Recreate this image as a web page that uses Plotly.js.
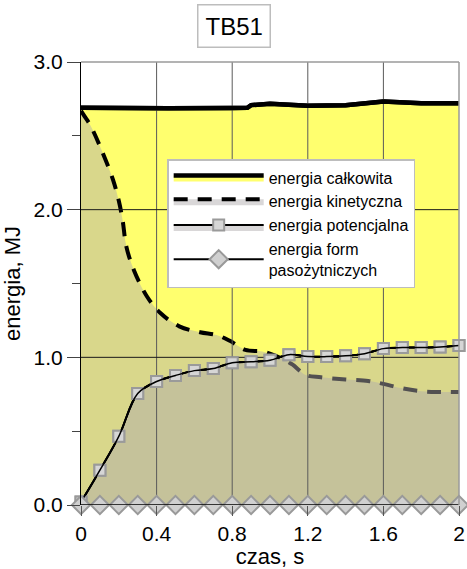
<!DOCTYPE html>
<html>
<head>
<meta charset="utf-8">
<script src="https://cdn.plot.ly/plotly-3.0.1.min.js"></script>
<style>html,body{margin:0;padding:0;background:#fff;}#chart{width:467px;height:569px;}</style>
</head>
<body>
<div id="chart"></div>
<script>
// ---- data ----
const chartTitle = "TB51";
const xTitle = "czas, s";
const yTitle = "energia, MJ";
const seriesNames = ["energia całkowita", "energia kinetyczna", "energia potencjalna", "energia form<br>pasożytniczych"];

const totalX = [0, 0.2, 0.4, 0.46, 0.8, 0.88, 0.9, 1.0, 1.2, 1.4, 1.6, 1.8, 2.0];
const totalY = [2.69, 2.688, 2.683, 2.686, 2.688, 2.69, 2.708, 2.718, 2.703, 2.707, 2.732, 2.72, 2.72];

const kinX = [0, 0.02, 0.05, 0.11, 0.17, 0.2, 0.22, 0.24, 0.28, 0.35, 0.42, 0.52, 0.63, 0.72, 0.79, 0.87, 0.96, 1.03, 1.08, 1.12, 1.19, 1.27, 1.4, 1.52, 1.6, 1.7, 1.8, 1.9, 2.0];
const kinY = [2.67, 2.63, 2.57, 2.40, 2.20, 2.06, 1.93, 1.75, 1.59, 1.41, 1.30, 1.21, 1.17, 1.15, 1.11, 1.05, 1.04, 1.01, 0.98, 0.95, 0.88, 0.865, 0.85, 0.84, 0.82, 0.79, 0.77, 0.765, 0.765];

const potX = [0, 0.1, 0.2, 0.3, 0.4, 0.5, 0.6, 0.7, 0.8, 0.9, 1.0, 1.1, 1.2, 1.3, 1.4, 1.5, 1.6, 1.7, 1.8, 1.9, 2.0];
const potY = [0.02, 0.236, 0.465, 0.755, 0.836, 0.877, 0.91, 0.924, 0.964, 0.97, 0.98, 1.018, 1.005, 1.005, 1.01, 1.025, 1.059, 1.066, 1.066, 1.07, 1.08];

const parX = [0, 0.1, 0.2, 0.3, 0.4, 0.5, 0.6, 0.7, 0.8, 0.9, 1.0, 1.1, 1.2, 1.3, 1.4, 1.5, 1.6, 1.7, 1.8, 1.9, 2.0];
const parY = [0, 0, 0, 0, 0, 0, 0, 0, 0, 0, 0, 0, 0, 0, 0, 0, 0, 0, 0, 0, 0];

const xTicks = [0, 0.4, 0.8, 1.2, 1.6, 2];
const xTickText = ["0", "0.4", "0.8", "1.2", "1.6", "2"];
const yTicks = [0, 1, 2, 3];
const yTickText = ["0.0", "1.0", "2.0", "3.0"];

// ---- styles ----
const overlay = "rgba(174,170,172,0.47)";
const FONT = "Arial, 'Liberation Sans', sans-serif";
const xRange = [0, 2], yRange = [0, 3];

// grid lines drawn as traces so they sit above the area fills (built from the tick arrays)
const gridX = [], gridY = [];
xTicks.filter(v => v > xRange[0] && v < xRange[1]).forEach(v => { gridX.push(v, v, null); gridY.push(yRange[0], yRange[1], null); });
const hGridX = [], hGridY = [];
yTicks.filter(v => v > yRange[0] && v < yRange[1]).forEach(v => { hGridX.push(xRange[0], xRange[1], null); hGridY.push(v, v, null); });

const potMarker = {symbol: "square", size: 11, color: "#D6D6D6", line: {color: "#9A9A9A", width: 2}};
const parMarker = {symbol: "diamond", size: 14, color: "#D0D0D0", line: {color: "#999", width: 2}};

const traces = [
  {x: totalX, y: totalY, name: seriesNames[0], mode: "lines", fill: "tozeroy",
   fillcolor: "#FFFF6E", line: {color: "#000", width: 4.5, shape: "linear"}},
  {x: kinX, y: kinY, name: seriesNames[1], mode: "lines", fill: "tozeroy",
   fillcolor: overlay, line: {color: "#000", width: 4, dash: "14px,10px", shape: "spline"}},
  {x: potX, y: potY, name: seriesNames[2], mode: "lines+markers", fill: "tozeroy",
   fillcolor: overlay, cliponaxis: false,
   line: {color: "#000", width: 2, shape: "spline"}, marker: potMarker},
  {x: gridX, y: gridY, mode: "lines", showlegend: false, hoverinfo: "skip",
   line: {color: "#5A5A5A", width: 1}},
  {x: hGridX, y: hGridY, mode: "lines", showlegend: false, hoverinfo: "skip",
   line: {color: "#1A1A1A", width: 1}},
  {x: totalX, y: totalY, mode: "lines", showlegend: false, hoverinfo: "skip",
   line: {color: "#000", width: 4.5, shape: "linear"}},
  {x: potX, y: potY, mode: "lines+markers", showlegend: false, hoverinfo: "skip", cliponaxis: false,
   line: {color: "#000", width: 2, shape: "spline"}, marker: potMarker},
  {x: potX, y: potY, mode: "lines", showlegend: false, hoverinfo: "skip", cliponaxis: false,
   line: {color: "#000", width: 1.5, shape: "spline"}},
  {x: parX, y: parY, name: seriesNames[3], mode: "lines+markers", cliponaxis: false,
   line: {color: "#000", width: 2}, marker: parMarker},
  {x: parX, y: parY, mode: "lines", showlegend: false, hoverinfo: "skip", cliponaxis: false,
   line: {color: "#000", width: 1.5}}
];

const layout = {
  width: 467, height: 569,
  margin: {l: 81, r: 8, t: 62, b: 64},
  paper_bgcolor: "#fff", plot_bgcolor: "#fff",
  font: {family: FONT, color: "#000", size: 15},
  showlegend: true,
  legend: {x: 0.228, y: 0.781, xanchor: "left", yanchor: "top",
    bgcolor: "#fff", bordercolor: "#BDBDBD", borderwidth: 1.5,
    font: {family: FONT, size: 16, color: "#000"}, itemwidth: 90, tracegroupgap: 0},
  xaxis: {range: xRange, tickvals: xTicks, ticktext: xTickText, ticks: "outside", ticklen: 10,
    tickcolor: "#555", showgrid: false, zeroline: false,
    showline: false, tickfont: {family: FONT, size: 21},
    title: {text: xTitle, font: {family: FONT, size: 22}, standoff: 4}},
  yaxis: {range: yRange, tickvals: yTicks, ticktext: yTickText, ticks: "outside", ticklen: 13,
    tickcolor: "#444", showgrid: false, zeroline: false,
    showline: true, linecolor: "#000", linewidth: 1,
    minor: {dtick: 0.5, ticks: "outside", ticklen: 8, tickcolor: "#444", showgrid: false},
    tickfont: {family: FONT, size: 21},
    title: {text: yTitle, font: {family: FONT, size: 22}, standoff: 7}},
  shapes: [
    {type: "line", xref: "paper", yref: "paper", x0: 0, x1: 1, y0: 1, y1: 1, line: {color: "#9A9A9A", width: 1.5}},
    {type: "line", xref: "paper", yref: "paper", x0: 1, x1: 1, y0: 0, y1: 1, line: {color: "#9A9A9A", width: 1.5}}
  ],
  annotations: [
    {text: chartTitle, xref: "paper", yref: "paper", x: 0.404, y: 1.081, xanchor: "center", yanchor: "middle",
     showarrow: false, font: {family: FONT, size: 24, color: "#000"},
     bordercolor: "#BDBDBD", borderwidth: 1.5, borderpad: 7, bgcolor: "#fff"}
  ]
};

Plotly.newPlot("chart", traces, layout, {displayModeBar: false, staticPlot: true});
</script>
</body>
</html>
